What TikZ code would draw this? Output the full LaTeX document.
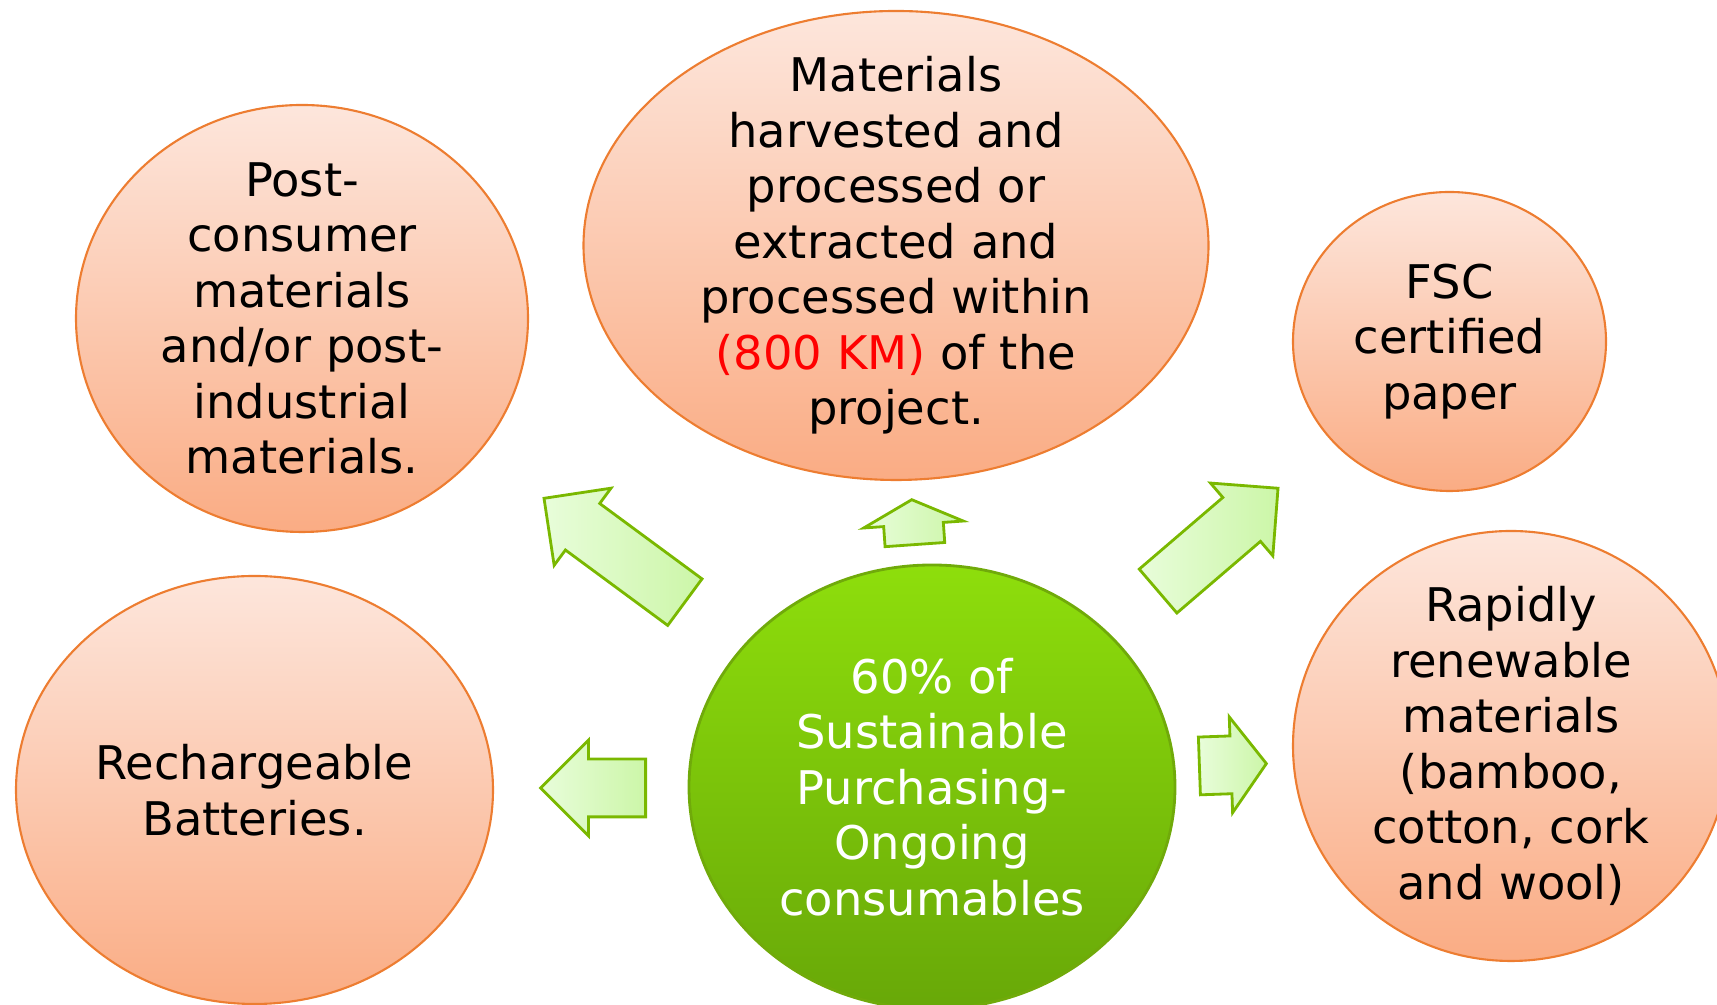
\documentclass[tikz,border=0pt]{standalone}
\usepackage{fontspec}
\setmainfont{DejaVu Sans}
\usepackage{xcolor}
\usepackage{tikz}
\usetikzlibrary{positioning,shapes.geometric,shapes.arrows}
\definecolor{peachtop}{RGB}{253,230,220}
\definecolor{peachbot}{RGB}{250,172,132}
\definecolor{peachedge}{RGB}{237,125,49}
\definecolor{limetop}{RGB}{142,222,12}
\definecolor{limebot}{RGB}{104,168,8}
\definecolor{limeedge}{RGB}{112,170,10}
\definecolor{mintlight}{RGB}{232,253,218}
\definecolor{mintdeep}{RGB}{204,246,168}
\definecolor{mintedge}{RGB}{122,184,0}

\begin{document}
\begin{tikzpicture}[
    bubble/.style={ellipse,draw=peachedge,line width=0.6pt,top color=peachtop,bottom color=peachbot,inner sep=0pt},
    hub/.style={ellipse,draw=limeedge,line width=0.8pt,top color=limetop,bottom color=limebot,inner sep=0pt},
    words/.style={align=center,inner sep=0pt,font=\fontsize{13.2}{15.8}\selectfont},
    pointer/.style={single arrow,draw=mintedge,line width=0.8pt,left color=mintlight,right color=mintdeep,
      inner xsep=0pt,inner ysep=0.275cm,anchor=tail,single arrow head extend=0.19cm}]
    \useasboundingbox (0,0) rectangle (17.17,10.05);
    \node[bubble,minimum width=4.52cm,minimum height=4.27cm] (postcons) at (3.02,6.865) {};
    \node[bubble,minimum width=6.25cm,minimum height=4.69cm] (regional) at (8.96,7.595) {};
    \node[bubble,minimum width=3.13cm,minimum height=2.99cm] (fsc) at (14.495,6.635) {};
    \node[bubble,minimum width=4.77cm,minimum height=4.28cm] (battery) at (2.545,2.15) {};
    \node[bubble,minimum width=4.36cm,minimum height=4.30cm] (rapid) at (15.11,2.59) {};
    \node[hub,minimum width=4.86cm,minimum height=4.44cm] (hub) at (9.32,2.18) {};
    \node[words] (postcons text) at (postcons) {Post-\\consumer\\materials\\and/or post-\\industrial\\materials.};
    \node[words] (regional text) at (regional) {Materials\\harvested and\\processed or\\extracted and\\processed within\\\textcolor{red}{(800 KM)} of the\\project.};
    \node[words] (fsc text) at (fsc) {FSC\\certified\\paper};
    \node[words] (battery text) at (battery) {Rechargeable\\Batteries.};
    \node[words] (rapid text) at (rapid) {Rapidly\\renewable\\materials\\(bamboo,\\cotton, cork\\and wool)};
    \node[words,text=white] (hub text) at (hub) {60\% of\\Sustainable\\Purchasing-\\Ongoing\\consumables};
    \node[pointer,minimum height=1.75cm,rotate=143.6] (to postcons) at (6.86,4.02) {};
    \node[pointer,minimum height=0.45cm,inner ysep=0.285cm,single arrow head extend=0.2cm,single arrow tip angle=127,rotate=94] (to regional) at (9.15,4.59) {};
    \node[pointer,minimum height=1.58cm,rotate=40.6] (to fsc) at (11.57,4.13) {};
    \node[pointer,minimum height=1.05cm,rotate=180] (to battery) at (6.47,2.17) {};
    \node[pointer,minimum height=0.67cm,single arrow tip angle=107,rotate=2] (to rapid) at (11.98,2.39) {};
\end{tikzpicture}
\end{document}
